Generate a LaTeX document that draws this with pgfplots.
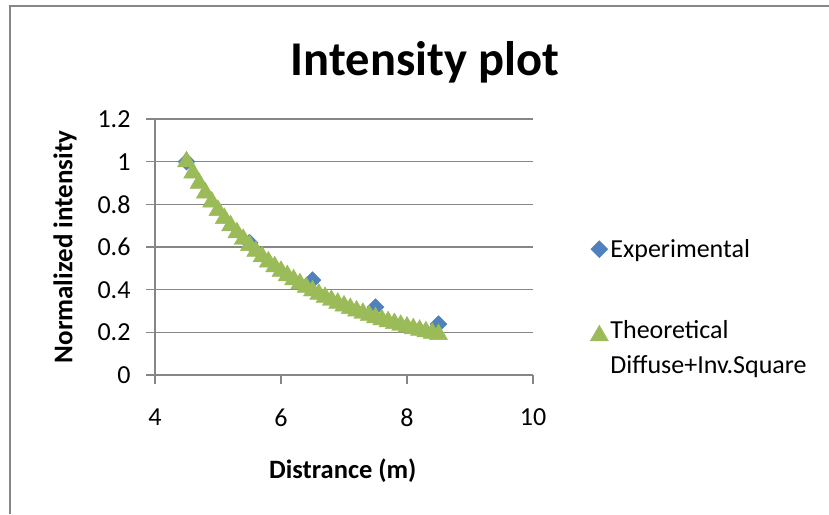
\documentclass[border=0pt]{standalone}
\usepackage{pgfplots}
\pgfplotsset{compat=1.18}
\usepackage{fontspec}
\setmainfont{Carlito}
\definecolor{expblue}{RGB}{79,129,189}
\definecolor{thgreen}{RGB}{155,187,89}
\definecolor{gridgray}{RGB}{134,134,134}
\begin{document}
\begin{tikzpicture}
\useasboundingbox[fill=white] (0pt,0pt) rectangle (829pt,514pt);
\draw[gridgray, line width=2pt] (10pt,0pt) -- (10pt,508pt) -- (829pt,508pt);
\begin{axis}[
  at={(155pt,139pt)}, anchor=south west,
  scale only axis, width=378pt, height=256pt,
  xmin=4, xmax=10, ymin=0, ymax=1.2,
  xtick={4,6,8,10}, ytick={0,0.2,0.4,0.6,0.8,1,1.2},
  yticklabels={0,0.2,0.4,0.6,0.8,1,1.2},
  xticklabels={4,6,8,10},
  axis x line*=bottom, axis y line*=left,
  axis line style={gridgray, line width=1.5pt, -},
  tick style={gridgray, line width=1.5pt},
  tick align=outside, major tick length=9pt,
  ymajorgrids, grid style={gridgray, line width=1.5pt},
  ticklabel style={font=\fontsize{26}{31}\selectfont},
  /pgf/number format/assume math mode=true,
  yticklabel style={anchor=east, xshift=-12pt},
  xticklabel style={anchor=north, yshift=-21pt},
  clip=false,
  title={\fontsize{48.5}{58}\selectfont\bfseries Intensity plot},
  title style={at={(axis description cs:0.714,1.145)}, anchor=base},
  xlabel={\fontsize{26.5}{31}\selectfont\bfseries Distrance (m)},
  xlabel style={at={(axis description cs:0.497,-0.403)}, anchor=base},
  ylabel={\fontsize{27}{32}\selectfont\bfseries Normalized intensity},
  ylabel style={at={(axis description cs:-0.238,0.5)}, anchor=center},
  legend style={at={(axis description cs:1.143,0.264)}, anchor=west,
    draw=none, fill=none, font=\fontsize{26}{35}\selectfont,
    nodes={align=left}, row sep=58pt},
  legend cell align=left,
]
\addplot[only marks, mark=square*, mark size=6pt,
  mark options={rotate=45, fill=expblue, draw=expblue}] coordinates {
  (4.5,1.0) (5.5,0.62) (6.5,0.445) (7.5,0.318) (8.5,0.238)};
\addlegendentry{Experimental}
\addplot[only marks, mark=triangle*, mark size=10.5pt,
  mark options={fill=thgreen, draw=thgreen},
  legend image post style={yshift=12.5pt}] coordinates {
  (4.5,1.0000) (4.6,0.9478) (4.7,0.8991) (4.8,0.8537) (4.9,0.8113)
  (5.0,0.7717) (5.1,0.7345) (5.2,0.6997) (5.3,0.6671) (5.4,0.6364)
  (5.5,0.6075) (5.6,0.5804) (5.7,0.5548) (5.8,0.5306) (5.9,0.5079)
  (6.0,0.4863) (6.1,0.4660) (6.2,0.4467) (6.3,0.4285) (6.4,0.4112)
  (6.5,0.3948) (6.6,0.3792) (6.7,0.3644) (6.8,0.3504) (6.9,0.3370)
  (7.0,0.3243) (7.1,0.3122) (7.2,0.3006) (7.3,0.2896) (7.4,0.2791)
  (7.5,0.2691) (7.6,0.2595) (7.7,0.2504) (7.8,0.2417) (7.9,0.2333)
  (8.0,0.2253) (8.1,0.2177) (8.2,0.2103) (8.3,0.2033) (8.4,0.1966)
  (8.5,0.1901)};
\addlegendentry{Theoretical\\Diffuse+Inv.Square}
\end{axis}
\end{tikzpicture}
\end{document}
